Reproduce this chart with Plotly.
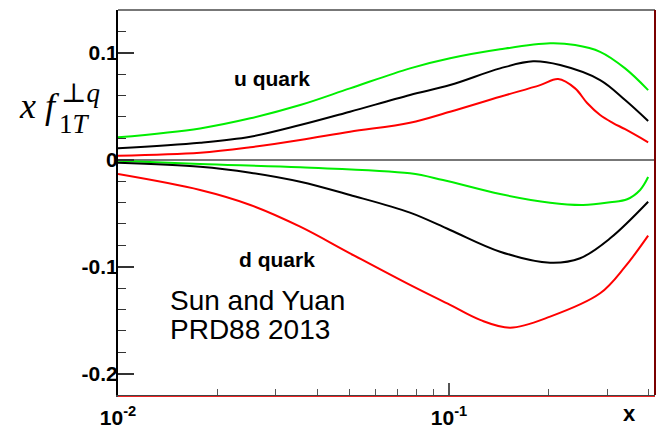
import plotly.graph_objects as go

# ---- data ----
x_u_green = [0.0100, 0.0177, 0.0251, 0.0355, 0.0502, 0.0762, 0.1007, 0.1426, 0.2019, 0.2403, 0.2859, 0.3402, 0.3993]
y_u_green = [0.0209, 0.0293, 0.0387, 0.0511, 0.0667, 0.0854, 0.0948, 0.1032, 0.1088, 0.1072, 0.1009, 0.0854, 0.0651]

x_u_black = [0.0100, 0.0177, 0.0251, 0.0355, 0.0502, 0.0762, 0.1007, 0.1426, 0.1794, 0.2165, 0.2859, 0.3402, 0.3993]
y_u_black = [0.0107, 0.0159, 0.0215, 0.0324, 0.0449, 0.0605, 0.0698, 0.0854, 0.0920, 0.0885, 0.0745, 0.0558, 0.0362]

x_u_red = [0.0100, 0.0177, 0.0251, 0.0355, 0.0502, 0.0762, 0.1007, 0.1426, 0.1884, 0.2135, 0.2403, 0.2612, 0.2859, 0.3130, 0.3402, 0.3993]
y_u_red = [0.0037, 0.0065, 0.0116, 0.0184, 0.0262, 0.0346, 0.0449, 0.0589, 0.0698, 0.0754, 0.0667, 0.0530, 0.0418, 0.0343, 0.0285, 0.0163]

x_d_green = [0.0100, 0.0177, 0.0355, 0.0762, 0.0959, 0.1426, 0.2019, 0.2541, 0.3065, 0.3450, 0.3776, 0.3993]
y_d_green = [-0.0009, -0.0040, -0.0071, -0.0127, -0.0190, -0.0321, -0.0402, -0.0423, -0.0398, -0.0370, -0.0283, -0.0162]

x_d_black = [0.0100, 0.0177, 0.0251, 0.0355, 0.0502, 0.0762, 0.1007, 0.1426, 0.2019, 0.2488, 0.3065, 0.3993]
y_d_black = [-0.0028, -0.0065, -0.0121, -0.0206, -0.0330, -0.0495, -0.0657, -0.0860, -0.0963, -0.0921, -0.0735, -0.0393]

x_d_red = [0.0100, 0.0177, 0.0251, 0.0355, 0.0502, 0.0762, 0.1007, 0.1241, 0.1529, 0.2019, 0.2859, 0.3402, 0.3993]
y_d_red = [-0.0134, -0.0283, -0.0423, -0.0626, -0.0875, -0.1171, -0.1358, -0.1498, -0.1570, -0.1467, -0.1249, -0.1000, -0.0710]

x_major_ticks = [0.01, 0.1]
x_major_text = ["10<sup>-2</sup>", "10<sup>-1</sup>"]
x_minor_ticks = [0.02, 0.03, 0.04, 0.05, 0.06, 0.07, 0.08, 0.09, 0.2, 0.3, 0.4]
y_major_ticks = [0.1, 0.0, -0.1, -0.2]
y_major_text = ["0.1", "0", "-0.1", "-0.2"]
y_minor_ticks = [0.12, 0.08, 0.06, 0.04, 0.02, -0.02, -0.04, -0.06, -0.08,
                 -0.12, -0.14, -0.16, -0.18]

series = [
    (x_u_green, y_u_green, "#00ee00"),
    (x_u_black, y_u_black, "#000000"),
    (x_u_red, y_u_red, "#ff0000"),
    (x_d_green, y_d_green, "#00ee00"),
    (x_d_black, y_d_black, "#000000"),
    (x_d_red, y_d_red, "#ff0000"),
]

fig = go.Figure()
for xs, ys, col in series:
    fig.add_trace(go.Scatter(x=xs, y=ys, mode="lines",
                             line=dict(color=col, width=2, shape="spline", smoothing=1.0),
                             showlegend=False, hoverinfo="skip"))

SANS = "Liberation Sans, Arial, sans-serif"
SERIF = "Liberation Serif, DejaVu Serif, serif"

fig.update_layout(
    width=658, height=430,
    margin=dict(l=118, r=3, t=10, b=35),
    paper_bgcolor="white", plot_bgcolor="white",
    xaxis=dict(type="log", range=[-2, -0.378], automargin=False,
               tickmode="array", tickvals=x_major_ticks, ticktext=x_major_text,
               ticks="inside", ticklen=12, tickcolor="#555", tickwidth=1.5,
               minor=dict(tickvals=x_minor_ticks, ticks="inside", ticklen=6,
                          tickcolor="#555", tickwidth=1),
               tickfont=dict(family=SANS, size=21, color="black", weight="bold"),
               ticklabelstandoff=3,
               showgrid=False, zeroline=False,
               showline=True, linecolor="#444", linewidth=1.5),
    yaxis=dict(range=[-0.22, 0.14], automargin=False,
               tickmode="array", tickvals=y_major_ticks, ticktext=y_major_text,
               ticks="inside", ticklen=16, tickcolor="#333", tickwidth=1.5,
               minor=dict(tickvals=y_minor_ticks, ticks="inside", ticklen=8,
                          tickcolor="#333", tickwidth=1),
               tickfont=dict(family=SANS, size=21, color="black", weight="bold"),
               ticklabelstandoff=-6,
               showgrid=False, zeroline=True, zerolinecolor="#777", zerolinewidth=1.5,
               showline=True, linecolor="black", linewidth=2),
)

# frame: top (gray), right (dark red), red line under bottom axis
fig.add_shape(type="line", xref="x domain", yref="y domain", x0=0, x1=1, y0=1, y1=1,
              line=dict(color="#777", width=2), layer="above")
fig.add_shape(type="line", xref="x domain", yref="y domain", x0=1, x1=1, y0=0, y1=1,
              line=dict(color="#7a0000", width=2), layer="above")
fig.add_shape(type="line", xref="x domain", yref="y domain", x0=0, x1=1,
              ysizemode="pixel", yanchor=0, y0=-1.5, y1=-1.5,
              line=dict(color="#ee2222", width=1), layer="above")

def ann(text, x, y, size, family=SANS, xanchor="center", bold=False, italic=False):
    fig.add_annotation(text=text, x=x, y=y, xref="paper", yref="paper",
                       xanchor=xanchor, yanchor="middle", showarrow=False,
                       borderpad=0,
                       font=dict(family=family, size=size, color="black",
                                 weight="bold" if bold else "normal",
                                 style="italic" if italic else "normal"))

# y-axis title: x f_{1T}^{⊥q}
ann("x f", -0.186, 0.750, 36, family=SERIF, xanchor="left", italic=True)
ann("1<i>T</i>", -0.112, 0.705, 27, family=SERIF, xanchor="left")
ann("⊥<i>q</i>", -0.108, 0.785, 27, family=SERIF, xanchor="left")

ann("x", 0.952, -0.047, 22, bold=True)
ann("u quark", 0.287, 0.821, 21, bold=True)
ann("d quark", 0.296, 0.353, 21, bold=True)
ann("Sun and Yuan", 0.095, 0.246, 28, xanchor="left")
ann("PRD88 2013", 0.095, 0.169, 28, xanchor="left")

fig.write_html("out.html")
